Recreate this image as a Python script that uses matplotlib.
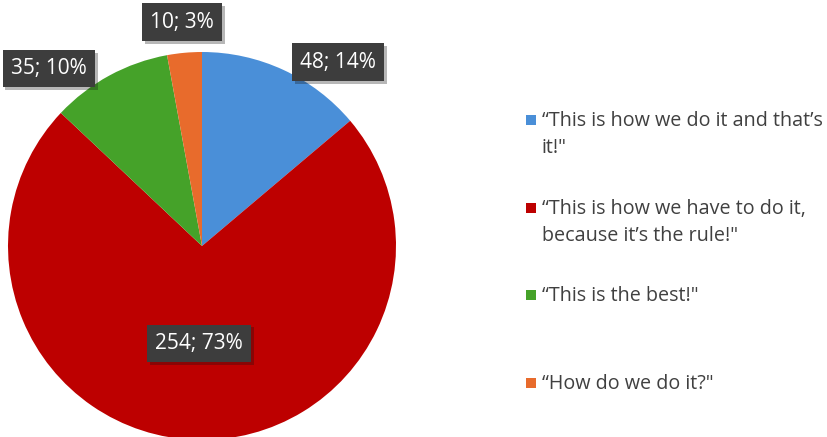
import matplotlib

matplotlib.use("Agg")

import numpy as np  # noqa: E402
import matplotlib.pyplot as plt  # noqa: E402
import matplotlib.patheffects as pe  # noqa: E402

# Survey answers
answers = [
    "“This is how we do it and that’s\nit!\"",
    "“This is how we have to do it,\nbecause it’s the rule!\"",
    "“This is the best!\"",
    "“How do we do it?\"",
]
counts = [48, 254, 35, 10]
colors = ["#4a8fd8", "#bd0000", "#45a229", "#e86b2c"]

# label placement (angle in degrees, distance in radii) per slice
label_pos = [(53.5, 1.179), (-91.8, 0.503), (130.8, 1.208), (95.1, 1.159)]

plt.rcParams["font.family"] = ["Open Sans", "DejaVu Sans"]

fig = plt.figure(figsize=(8.28, 4.37), dpi=100)
W, H = 828, 437
cx, cy, r = 202, 246, 194
ax = fig.add_axes([(cx - r) / W, (H - cy - r) / H, 2 * r / W, 2 * r / H])

total = sum(counts)
ax.pie(counts, colors=colors, startangle=90, counterclock=False,
       radius=1, wedgeprops=dict(linewidth=0))
ax.set_xlim(-1, 1)
ax.set_ylim(-1, 1)
ax.set_aspect("auto")
ax.axis("off")

for n, (ang, dist) in zip(counts, label_pos):
    pct = round(100 * n / total)
    a = np.deg2rad(ang)
    t = ax.text(dist * np.cos(a), dist * np.sin(a), f"{n}; {pct}%",
                ha="center", va="center", fontsize=15, color="white",
                bbox=dict(boxstyle="square,pad=0.4", fc="#3d3d3d", ec="none"),
                clip_on=False, zorder=5)
    t.get_bbox_patch().set_path_effects(
        [pe.SimplePatchShadow(offset=(2, -2), alpha=0.3), pe.Normal()])

# legend drawn by hand: evenly spaced entries, wrapped labels
ys = [120, 208, 295, 383]
for lab, col, y in zip(answers, colors, ys):
    fig.patches.append(plt.Rectangle((526 / W, (H - y - 5) / H), 10 / W, 10 / H,
                                     transform=fig.transFigure, fc=col, ec="none"))
    fig.text(542 / W, (H - y + 9) / H, lab, ha="left", va="top",
             fontsize=14.2, color="#404040", linespacing=1.48)

fig.savefig("out.png", dpi=100)
plt.close(fig)
